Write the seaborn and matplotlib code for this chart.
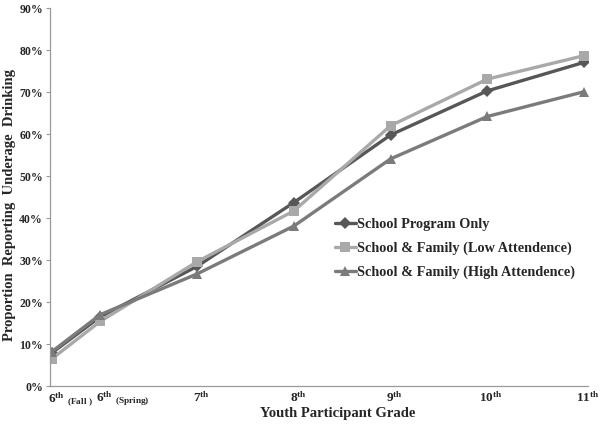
import matplotlib
matplotlib.use("Agg")
import matplotlib.pyplot as plt
import matplotlib.transforms as mtransforms
import seaborn as sns
import pandas as pd
from matplotlib.ticker import PercentFormatter

# Data
grades = ["6th (Fall)", "6th (Spring)", "7th", "8th", "9th", "10th", "11th"]
grade_pos = [0, 0.5, 1.5, 2.5, 3.5, 4.5, 5.5]
tick_labels = [r"$6^{th}\ {}_{(Fall\ )}$", r"$6^{th}\ {}_{(Spring)}$", r"$7^{th}$",
               r"$8^{th}$", r"$9^{th}$", r"$10^{th}$", r"$11^{th}$"]
series_names = ["School Program Only", "School & Family (Low Attendence)",
                "School & Family (High Attendence)"]
school_only = [7.9, 16.5, 28.5, 43.7, 59.8, 70.3, 77.1]
family_low = [6.5, 15.4, 29.6, 41.7, 62.0, 73.1, 78.7]
family_high = [8.2, 17.0, 26.7, 38.1, 54.1, 64.2, 70.1]

rows = []
for name, vals in zip(series_names, [school_only, family_low, family_high]):
    for g, p, v in zip(grades, grade_pos, vals):
        rows.append({"grade": g, "pos": p, "pct": v, "series": name})
df = pd.DataFrame(rows)

sns.set_theme(style="white")
plt.rcParams["font.family"] = ["Liberation Serif", "DejaVu Serif"]
plt.rcParams["font.weight"] = "bold"
plt.rcParams["mathtext.fontset"] = "custom"
plt.rcParams["mathtext.rm"] = "Liberation Serif:bold"
plt.rcParams["mathtext.it"] = "Liberation Serif:bold"
plt.rcParams["mathtext.bf"] = "Liberation Serif:bold"

fig = plt.figure(figsize=(6, 4.29), dpi=100)
ax = fig.add_axes([0.0833, 0.1002, 0.8967, 0.8808])

palette = ["#575757", "#a9a9a9", "#7b7b7b"]
sns.lineplot(data=df, x="pos", y="pct", hue="series", style="series",
             hue_order=series_names, style_order=series_names,
             palette=palette, markers=["D", "s", "^"], dashes=False,
             markersize=6.5, linewidth=2.4, markeredgewidth=0, ax=ax)

ax.set_xlim(-0.02, 5.54)
ax.set_ylim(0, 90)
ax.set_yticks(range(0, 91, 10))
ax.yaxis.set_major_formatter(PercentFormatter(decimals=0))
ax.set_xticks(grade_pos)
ax.set_xticklabels(tick_labels, fontsize=9.5)
ax.tick_params(axis="x", length=0, pad=3)
ax.tick_params(axis="y", length=3, width=0.8, color="#9a9a9a", labelsize=8.5, pad=2, direction="out", left=True)
for lab in ax.get_yticklabels():
    lab.set_fontweight("bold")
for lab, txt in zip(ax.get_xticklabels(), tick_labels):
    lab.set_horizontalalignment("left")
    ndig = 2 if txt.startswith(r"$1") else 1
    shift = -3.0 * ndig
    off = mtransforms.ScaledTranslation(shift / 72, 0, fig.dpi_scale_trans)
    lab.set_transform(lab.get_transform() + off)

for s in ["top", "right"]:
    ax.spines[s].set_visible(False)
for s in ["left", "bottom"]:
    ax.spines[s].set_color("#9a9a9a")
    ax.spines[s].set_linewidth(0.9)

ax.set_xlabel("Youth Participant Grade", fontsize=10.5, fontweight="bold")
ax.xaxis.set_label_coords(0.535, -0.055)
ax.set_ylabel("Proportion  Reporting  Underage  Drinking", fontsize=10.5, fontweight="bold")
ax.yaxis.set_label_coords(-0.064, 0.48)

leg = ax.legend(loc="upper left", bbox_to_anchor=(0.505, 0.48), frameon=False,
                handlelength=1.5, handletextpad=0.1, labelspacing=0.75,
                prop={"family": "Liberation Serif", "weight": "bold", "size": 10.3})

fig.savefig("out.png", dpi=100)
